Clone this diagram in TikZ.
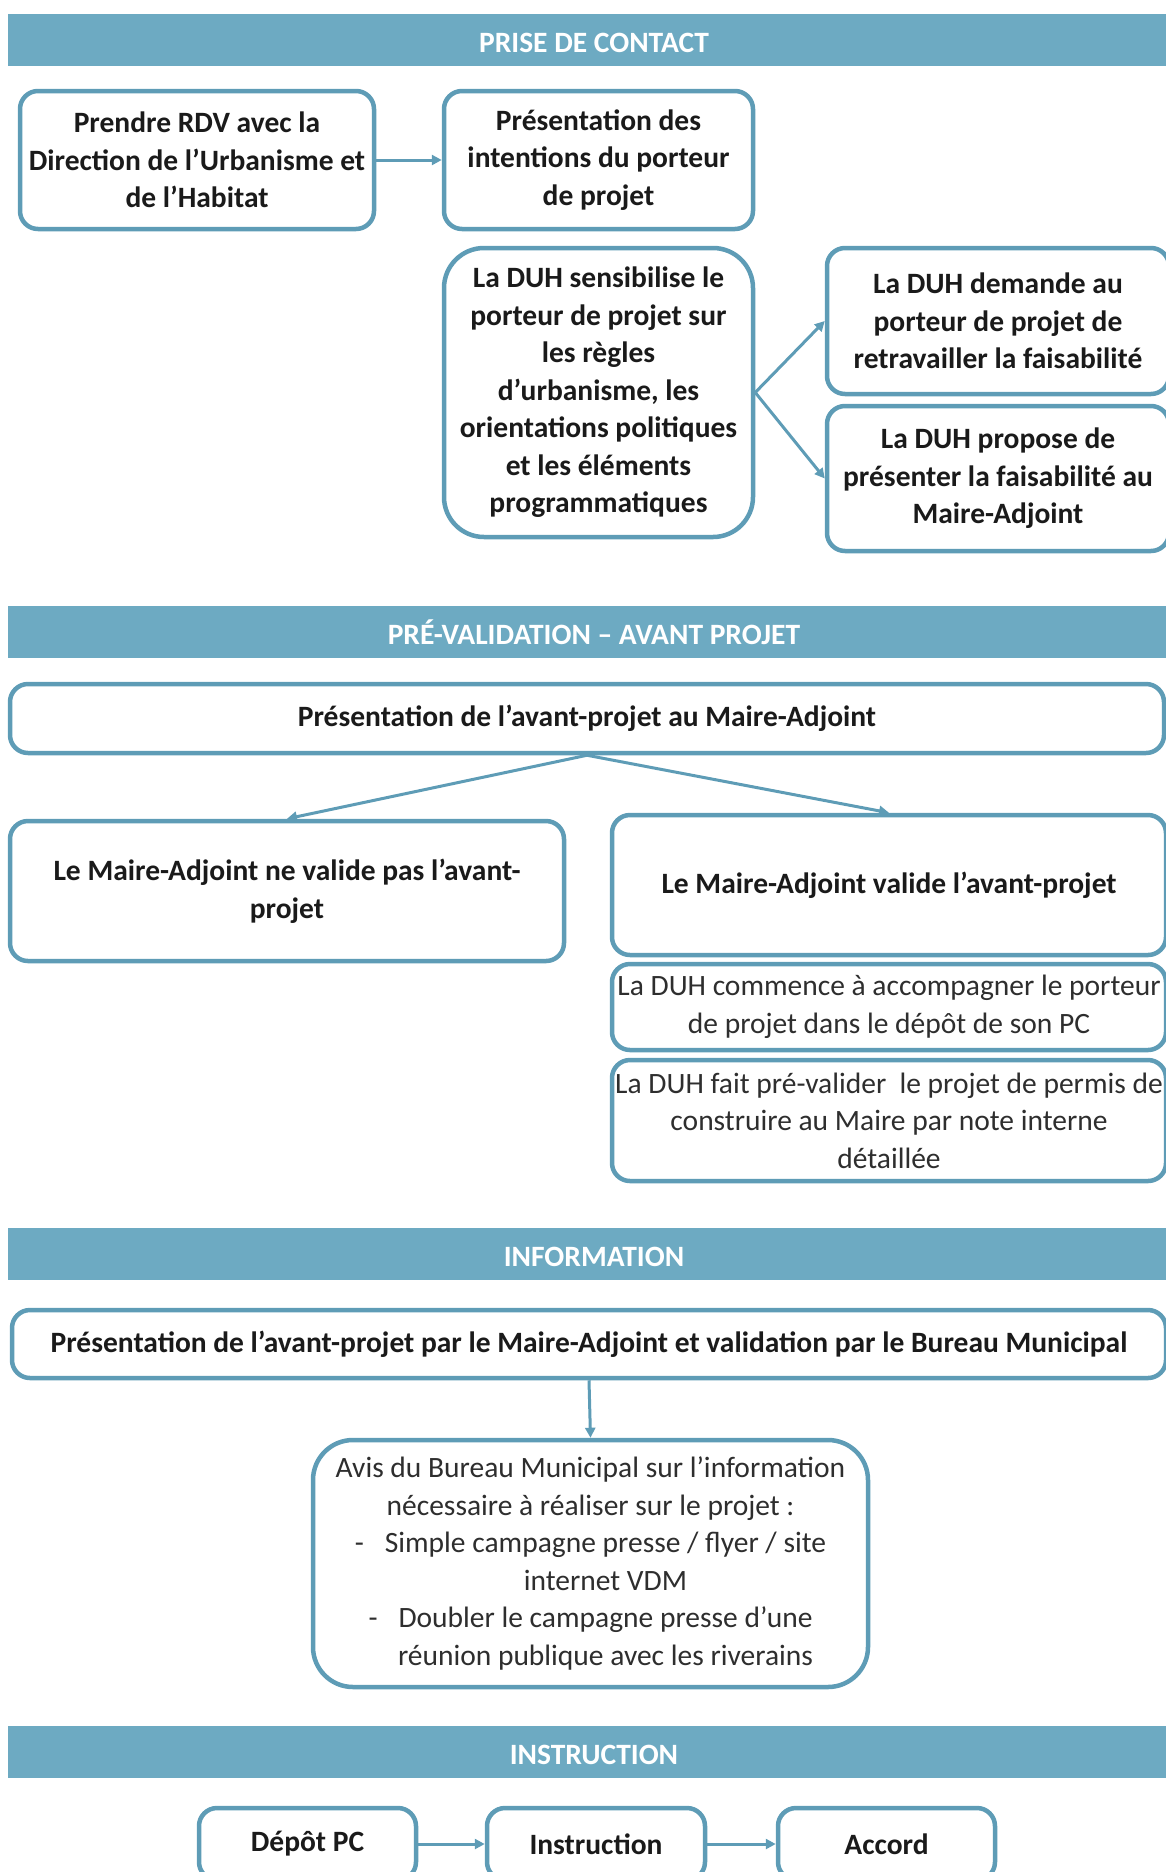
\documentclass[tikz,border=0pt]{standalone}
\usepackage{fontspec}
\setmainfont{Carlito}
\usetikzlibrary{arrows.meta}

\definecolor{bleu}{HTML}{6DAAC2}
\definecolor{bord}{HTML}{5E9CB6}
\definecolor{encre}{HTML}{1A1A1A}
\definecolor{gris}{HTML}{2E2E2E}

\newcommand{\tiret}{\makebox[30pt][l]{-}}

\begin{document}
\begin{tikzpicture}[x=1pt, y=-1pt, line join=round,
    bandeau/.style={fill=bleu, minimum width=1172pt, minimum height=52pt, inner sep=0pt,
        text height=26pt, text=white, font=\bfseries\fontsize{29.5}{37.5}\selectfont},
    boite/.style={draw=bord, line width=4.5pt, rounded corners=18pt, fill=white,
        align=center, inner sep=0pt, text=encre, font=\bfseries\fontsize{29.5}{37.5}\selectfont},
    maigre/.style={text=gris, font=\fontsize{29.5}{37.5}\selectfont},
    fleche/.style={draw=bord, line width=3pt, -{Triangle[length=10pt,width=10pt]}}]

    \useasboundingbox (0,0) rectangle (1166,1872);
    \clip (0,0) rectangle (1166,1872);

    % Prise de contact
    \node[bandeau] (t1) at (594,39.5) {PRISE DE CONTACT};
    \node[boite, minimum width=354pt, minimum height=138pt] (rdv) at (197,160)
        {Prendre RDV avec la\\Direction de l’Urbanisme et\\de l’Habitat};
    \node[boite, minimum width=309pt, minimum height=138pt] (intent) at (598.5,160)
        {Présentation des\\intentions du porteur\\de projet};
    \node[boite, minimum width=309pt, minimum height=289pt, rounded corners=40pt] (sensib) at (598.5,392.5)
        {La DUH sensibilise le\\porteur de projet sur\\les règles\\d’urbanisme, les\\orientations politiques\\et les éléments\\programmatiques};
    \node[boite, minimum width=342pt, minimum height=146pt] (retrav) at (998,321)
        {La DUH demande au\\porteur de projet de\\retravailler la faisabilité};
    \node[boite, minimum width=342pt, minimum height=145pt] (propose) at (998,478.5)
        {La DUH propose de\\présenter la faisabilité au\\Maire-Adjoint};

    \draw[fleche] (rdv) -- (intent);
    \draw[fleche] (sensib.east) -- (retrav.west);
    \draw[fleche] (sensib.east) -- (propose.west);

    % Pré-validation
    \node[bandeau] (t2) at (594,632) {PRÉ-VALIDATION – AVANT PROJET};
    \node[boite, minimum width=1154pt, minimum height=69pt] (avp) at (587,718.5)
        {Présentation de l’avant-projet au Maire-Adjoint};
    \node[boite, minimum width=554pt, minimum height=140pt] (refus) at (287,891)
        {Le Maire-Adjoint ne valide pas l’avant-\\projet};
    \node[boite, minimum width=554pt, minimum height=140pt] (valid) at (889,885)
        {Le Maire-Adjoint valide l’avant-projet};
    \node[boite, maigre, minimum width=554pt, minimum height=86pt] (accomp) at (889,1007)
        {La DUH commence à accompagner le porteur\\de projet dans le dépôt de son PC};
    \node[boite, maigre, minimum width=554pt, minimum height=121pt] (note) at (889,1120.5)
        {La DUH fait pré-valider\ \ le projet de permis de\\construire au Maire par note interne\\détaillée};

    \draw[fleche] (avp.south) -- (refus.north);
    \draw[fleche] (avp.south) -- (valid.north);

    % Information
    \node[bandeau] (t3) at (594,1253.5) {INFORMATION};
    \node[boite, minimum width=1154pt, minimum height=68pt] (bm) at (589,1344)
        {Présentation de l’avant-projet par le Maire-Adjoint et validation par le Bureau Municipal};
    \node[boite, maigre, minimum width=555pt, minimum height=247pt, rounded corners=40pt] (avis) at (590.5,1563.5)
        {Avis du Bureau Municipal sur l’information\\nécessaire à réaliser sur le projet :\\
         \tiret Simple campagne presse / flyer / site\\\hspace*{30pt}internet VDM\\
         \tiret Doubler le campagne presse d’une\\\hspace*{30pt}réunion publique avec les riverains};

    \draw[fleche] (bm.south) -- (avis.north);

    % Instruction
    \node[bandeau] (t4) at (594,1751.5) {INSTRUCTION};
    \node[boite, minimum width=217pt, minimum height=72pt] (depot) at (307.5,1844) {Dépôt PC};
    \node[boite, minimum width=218pt, minimum height=72pt] (instr) at (596,1844) {Instruction};
    \node[boite, minimum width=217pt, minimum height=72pt] (accord) at (886.5,1844) {Accord};

    \draw[fleche] (depot) -- (instr);
    \draw[fleche] (instr) -- (accord);
\end{tikzpicture}
\end{document}
